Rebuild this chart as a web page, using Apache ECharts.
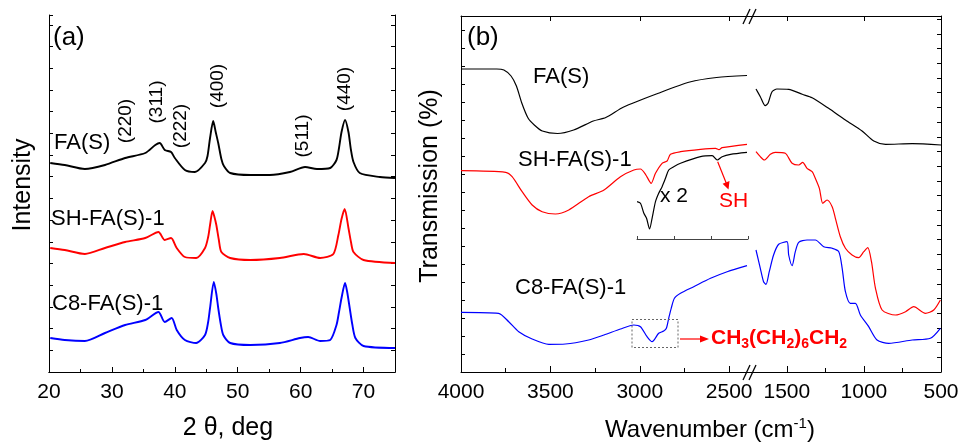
<!DOCTYPE html>
<html>
<head>
<meta charset="utf-8">
<script src="https://cdn.jsdelivr.net/npm/echarts@6/dist/echarts.min.js"></script>
<style>
  html, body { margin: 0; padding: 0; background: #fff; }
  #chart { width: 962px; height: 445px; }
</style>
</head>
<body>
<div id="chart"></div>
<script>
// XRD patterns, [2theta, intensity (a.u., offset)]
const xrdFaS = [[20.2,209],[22.5,207],[25.7,203],[28.9,207],[32.1,214],[35.3,219],[36.9,227],[37.6,229],[38.4,222],[39.4,220],[40.0,214],[41.6,202],[43.2,200],[44.8,209],[45.2,216],[45.6,234],[46.1,251],[46.5,240],[46.9,229],[47.4,213],[47.8,206],[48.8,199],[52,197],[55.1,197],[58.3,200],[60.7,205],[62.6,203],[64.7,204],[65.7,212],[66.1,224],[66.5,240],[67.06,252],[67.6,240],[68.0,222],[68.4,210],[69.4,199],[72.6,195],[75,194]];
const xrdShFaS = [[20.2,124],[22.5,122],[25.7,118],[28.9,124],[32.1,130],[35.3,134],[37.4,140],[38.4,132],[39.4,134],[40.3,124],[41.6,115],[43.4,114],[44.8,124],[45.3,135],[45.6,147],[46.0,161],[46.3,155],[46.6,147],[47.0,132],[47.4,120],[48.8,114],[52,112],[56.7,114],[60.5,118],[63.1,114],[65.2,118],[66.0,137],[66.5,153],[67.0,163],[67.6,144],[68.0,130],[68.4,120],[70.0,112],[75,109]];
const xrdC8FaS = [[20.2,34],[22.5,32],[25.7,31],[28.9,39],[32.1,47],[35.3,52],[37.4,60],[38.4,50],[39.5,54],[40.3,42],[41.6,32],[43.4,29],[44.8,37],[45.3,50],[45.6,64],[46.2,90],[46.6,78],[46.9,64],[47.3,48],[47.7,37],[48.8,29],[52,27],[56.7,29],[59.9,34],[61.2,35],[63.1,31],[64.7,32],[65.7,47],[66.1,60],[66.5,74],[67.06,89],[67.4,80],[67.8,64],[68.2,48],[68.7,34],[70.0,26],[75,24]];

// FTIR spectra, [wavenumber, transmission (a.u., offset)], split at the axis break
const ftirFaSHigh = [[4000,303],[3800,303],[3760,302],[3720,296],[3690,286],[3660,269],[3625,254],[3590,247],[3545,241],[3460,238.5],[3370,242],[3260,251],[3190,254.5],[3090,265],[2900,278.5],[2720,290],[2570,294.5],[2400,296.5]];
const ftirFaSLow = [[1700,283],[1672,275.3],[1640,266.3],[1622,268.7],[1596,280.3],[1564,283],[1488,282.7],[1400,277.7],[1336,274.3],[1229,263.7],[1120,252],[1012,241],[936,231],[860,227.7],[687,228.3],[500,227]];
const ftirShHigh = [[4000,201.3],[3750,199.7],[3714,195.3],[3658,180.3],[3602,167],[3546,160.3],[3472,158],[3397,162],[3286,175.3],[3200,182],[3108,195.3],[3033,202],[2996,203],[2968,197.7],[2936,188.7],[2912,198.7],[2875,208.7],[2847,211],[2828,217.7],[2772,220.3],[2660,222.7],[2576,223.7],[2557,222.3],[2539,224.3],[2400,227.7]];
const ftirShLow = [[1700,220.3],[1672,215.3],[1646,212],[1607,217.7],[1575,219.7],[1510,218.7],[1466,208.7],[1423,207],[1397,209.7],[1369,203.7],[1336,200.3],[1315,193.7],[1289,183.7],[1267,168.7],[1239,172],[1206,165.3],[1185,153.7],[1153,135.3],[1120,123.7],[1077,117],[1034,114.3],[1001,120.3],[975,124.3],[951,110.3],[925,83.7],[882,62],[795,57],[730,60.3],[677,65.3],[601,58.7],[547,62],[504,72]];
const ftirShZoom = [[3015,170.3],[2996,168.7],[2977,158.7],[2962,153.7],[2945,143],[2931,153.7],[2912,170.3],[2894,178.7],[2875,185.3],[2856,193.7],[2838,202],[2810,205.3],[2772,208.7],[2660,215.3],[2595,216.3],[2567,212],[2539,215.3],[2492,217.7],[2400,219.7]];
const ftirC8High = [[4000,59.7],[3790,58.7],[3733,50.3],[3677,40.3],[3602,33],[3509,27.7],[3416,28],[3286,32],[3200,37],[3108,43],[3033,47],[2996,45.3],[2959,35.3],[2931,30.3],[2894,38.7],[2866,41],[2851,43.7],[2838,53.7],[2824,63.7],[2806,73.7],[2772,78.7],[2698,85.3],[2604,93.7],[2511,100.3],[2400,106.3]];
const ftirC8Low = [[1700,122],[1672,103.7],[1651,90.3],[1635,87.7],[1614,100.3],[1586,117],[1553,127.7],[1499,130.3],[1488,117],[1466,106.3],[1445,120.3],[1423,129.7],[1369,132],[1315,132],[1261,125.3],[1206,123.7],[1163,120.3],[1141,103.7],[1120,80.3],[1088,68.7],[1055,68.7],[1023,57],[969,45.3],[915,32],[839,28.7],[687,32],[569,33.7],[504,43.7]];

const highTicks = [2500, 3000, 3500, 4000];
const highMinor = [2750, 3250, 3750];
const lowTicks = [500, 1000, 1500];
const lowMinor = [750, 1250];
const zoomTicks = [2400, 2600, 2800, 3000];

const FONT = '"Liberation Sans", Arial, sans-serif';
const BLACK = '#000';
const RED = '#ff0000';
const BLUE = '#0000ff';

const chart = echarts.init(document.getElementById('chart'));

const line = { lineStyle: { color: BLACK, width: 1 } };
const tickLabel = { color: BLACK, fontSize: 21, fontFamily: FONT, margin: 10, formatter: (v) => String(v) };
const off = { show: false };

function bareAxis(extra) {
  return Object.assign({
    type: 'value',
    axisLine: Object.assign({ show: true }, line),
    axisTick: off,
    axisLabel: off,
    splitLine: off,
  }, extra);
}

function curve(data, color, xi, yi, width) {
  return {
    type: 'line',
    data,
    xAxisIndex: xi,
    yAxisIndex: yi,
    showSymbol: false,
    smooth: 0.25,
    lineStyle: { color, width },
    silent: true,
  };
}

function txt(text, x, y, opts) {
  return {
    type: 'text', x, y, z: 100,
    rotation: (opts && opts.rotation) || 0,
    style: Object.assign({
      text,
      fill: BLACK,
      fontSize: 22,
      fontFamily: FONT,
      align: 'left',
      verticalAlign: 'middle',
    }, opts && opts.style),
  };
}

function seg(x1, y1, x2, y2, color, width) {
  return { type: 'line', z: 100, shape: { x1, y1, x2, y2 }, style: { stroke: color, lineWidth: width } };
}

const peakText = (t, x, y) => txt(t, x, y, { rotation: Math.PI / 2, style: { fontSize: 19, align: 'center' } });

chart.setOption({
  animation: false,
  backgroundColor: '#fff',
  grid: [
    { left: 49, top: 15, width: 346, height: 357 },
    { left: 461, top: 16, width: 286, height: 356 },
    { left: 756, top: 16, width: 185, height: 356 },
    { left: 637, top: 100, width: 111, height: 139 },
  ],
  xAxis: [
    bareAxis({
      gridIndex: 0, min: 20, max: 75, interval: 10, position: 'bottom',
      axisTick: { show: true, inside: true, length: 5, lineStyle: { color: BLACK } },
      minorTick: { show: true, splitNumber: 2, length: 3, lineStyle: { color: BLACK } },
      axisLabel: Object.assign({ showMaxLabel: false }, tickLabel),
    }),
    bareAxis({ gridIndex: 0, min: 20, max: 75, position: 'top' }),
    bareAxis({
      gridIndex: 1, min: 2400, max: 4000, inverse: true, position: 'bottom',
      axisTick: { show: true, inside: true, length: 6, customValues: highTicks, lineStyle: { color: BLACK } },
      axisLabel: Object.assign({ customValues: highTicks }, tickLabel),
    }),
    bareAxis({
      gridIndex: 1, min: 2400, max: 4000, inverse: true, position: 'bottom', axisLine: off,
      axisTick: { show: true, inside: true, length: 4, customValues: highMinor, lineStyle: { color: BLACK } },
    }),
    bareAxis({
      gridIndex: 1, min: 2400, max: 4000, inverse: true, position: 'top',
      axisTick: { show: true, inside: true, length: 5, customValues: highTicks, lineStyle: { color: BLACK } },
    }),
    bareAxis({
      gridIndex: 2, min: 500, max: 1700, inverse: true, position: 'bottom',
      axisTick: { show: true, inside: true, length: 6, customValues: lowTicks, lineStyle: { color: BLACK } },
      axisLabel: Object.assign({ customValues: lowTicks }, tickLabel),
    }),
    bareAxis({
      gridIndex: 2, min: 500, max: 1700, inverse: true, position: 'bottom', axisLine: off,
      axisTick: { show: true, inside: true, length: 4, customValues: lowMinor, lineStyle: { color: BLACK } },
    }),
    bareAxis({
      gridIndex: 2, min: 500, max: 1700, inverse: true, position: 'top',
      axisTick: { show: true, inside: true, length: 5, customValues: lowTicks, lineStyle: { color: BLACK } },
    }),
    bareAxis({
      gridIndex: 3, min: 2400, max: 3000, inverse: true, position: 'bottom',
      axisLine: { show: true, lineStyle: { color: '#444', width: 1 } },
      axisTick: { show: true, inside: true, length: 3, customValues: zoomTicks, lineStyle: { color: '#444' } },
    }),
  ],
  yAxis: [
    bareAxis({
      gridIndex: 0, min: 0, max: 357, interval: 21.7, position: 'left',
      axisTick: { show: true, inside: true, length: 4, lineStyle: { color: BLACK } },
    }),
    bareAxis({
      gridIndex: 0, min: 0, max: 357, interval: 21.7, position: 'right',
      axisTick: { show: true, inside: true, length: 4, lineStyle: { color: BLACK } },
    }),
    bareAxis({
      gridIndex: 1, min: 0, max: 356, interval: 18, position: 'left',
      axisTick: { show: true, inside: true, length: 4, lineStyle: { color: BLACK } },
    }),
    bareAxis({
      gridIndex: 2, min: 0, max: 356, interval: 14.7, position: 'right',
      axisTick: { show: true, inside: true, length: 4, lineStyle: { color: BLACK } },
    }),
    bareAxis({ gridIndex: 3, min: 0, max: 1, show: false }),
  ],
  series: [
    curve(xrdFaS, BLACK, 0, 0, 1.9),
    curve(xrdShFaS, RED, 0, 0, 1.9),
    curve(xrdC8FaS, BLUE, 0, 0, 1.9),
    curve(ftirFaSHigh, BLACK, 2, 2, 1.2),
    curve(ftirShHigh, RED, 2, 2, 1.2),
    curve(ftirShZoom, BLACK, 2, 2, 1.2),
    curve(ftirC8High, BLUE, 2, 2, 1.2),
    curve(ftirFaSLow, BLACK, 5, 3, 1.2),
    curve(ftirShLow, RED, 5, 3, 1.2),
    curve(ftirC8Low, BLUE, 5, 3, 1.2),
  ],
  graphic: [
    // panel (a) text
    txt('(a)', 53, 38, { style: { fontSize: 26 } }),
    txt('FA(S)', 54, 143),
    txt('SH-FA(S)-1', 51, 219),
    txt('C8-FA(S)-1', 52, 304),
    peakText('(220)', 126, 121),
    peakText('(311)', 157, 102),
    peakText('(222)', 181, 126),
    peakText('(400)', 218, 86),
    peakText('(511)', 303, 136),
    peakText('(440)', 345, 89),
    txt('Intensity', 23, 185, { rotation: Math.PI / 2, style: { fontSize: 25, align: 'center' } }),
    txt('2 θ, deg', 228, 428, { style: { fontSize: 25, align: 'center' } }),

    // panel (b) text
    txt('(b)', 467, 38, { style: { fontSize: 26 } }),
    txt('FA(S)', 533, 77),
    txt('SH-FA(S)-1', 518, 160),
    txt('C8-FA(S)-1', 515, 288),
    txt('x 2', 660, 196, { style: { fontSize: 21 } }),
    txt('SH', 719, 201, { style: { fontSize: 21, fill: RED } }),
    txt('Transmission (%)', 430, 186, { rotation: Math.PI / 2, style: { fontSize: 25, align: 'center' } }),
    {
      type: 'text', x: 710, y: 430, z: 100,
      style: {
        text: '{a|Wavenumber (cm}{b|-1}{a|)}',
        align: 'center', verticalAlign: 'middle',
        rich: {
          a: { fontSize: 24, fontFamily: FONT, fill: BLACK },
          b: { fontSize: 15, fontFamily: FONT, fill: BLACK, padding: [0, 0, 12, 0] },
        },
      },
    },
    {
      type: 'text', x: 711, y: 338, z: 100,
      style: {
        text: '{a|CH}{s|3}{a|(CH}{s|2}{a|)}{s|6}{a|CH}{s|2}',
        align: 'left', verticalAlign: 'middle',
        rich: {
          a: { fontSize: 21, fontWeight: 'bold', fontFamily: FONT, fill: RED },
          s: { fontSize: 14, fontWeight: 'bold', fontFamily: FONT, fill: RED, padding: [12, 0, 0, 0] },
        },
      },
    },

    // axis break
    seg(747, 16.5, 756, 16.5, BLACK, 1),
    seg(747, 372.5, 756, 372.5, BLACK, 1),
    seg(743, 24, 750, 9, BLACK, 1.3),
    seg(749, 24, 756, 9, BLACK, 1.3),
    seg(743, 380, 750, 365, BLACK, 1.3),
    seg(749, 380, 756, 365, BLACK, 1.3),

    // CH2 band marker
    {
      type: 'rect', z: 100,
      shape: { x: 632, y: 319.5, width: 46, height: 28 },
      style: { fill: 'none', stroke: '#666', lineWidth: 1, lineDash: [2, 2] },
    },
    seg(680, 339, 701, 339, RED, 1.2),
    { type: 'polygon', z: 100, shape: { points: [[700, 335.5], [709, 339], [700, 342.5]] }, style: { fill: RED } },

    // SH arrow
    seg(717.7, 161.7, 726.2, 183, RED, 1.2),
    { type: 'polygon', z: 100, shape: { points: [[729.5, 181], [728.5, 189.5], [722.6, 183.8]] }, style: { fill: RED } },
  ],
});
</script>
</body>
</html>
